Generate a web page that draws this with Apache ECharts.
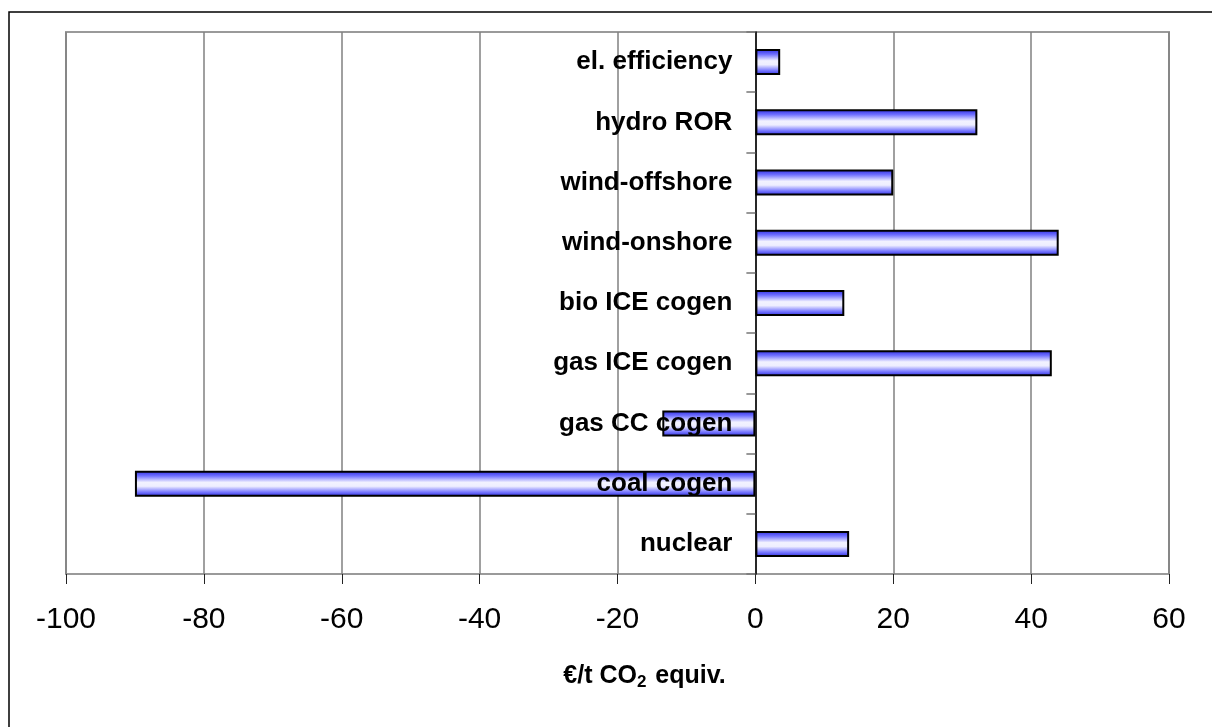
<!DOCTYPE html>
<html>
<head>
<meta charset="utf-8">
<script src="https://cdn.jsdelivr.net/npm/echarts@6/dist/echarts.min.js"></script>
<style>
  html, body { margin: 0; padding: 0; background: #fff; }
  #chart { width: 1212px; height: 727px; }
</style>
</head>
<body>
<div id="chart"></div>
<script>
// categories from bottom to top, as ECharts lays out a category y axis
var categories = ['nuclear', 'coal cogen', 'gas CC cogen', 'gas ICE cogen', 'bio ICE cogen',
  'wind-onshore', 'wind-offshore', 'hydro ROR', 'el. efficiency']
var costValues = [13.6, -90, -13.5, 43, 12.9, 44, 20, 32.2, 3.6]
var xTicks = [-100, -80, -60, -40, -20, 0, 20, 40, 60]

var fontName = 'Arial, "Liberation Sans", sans-serif'

var barFill = new echarts.graphic.LinearGradient(0, 0, 0, 1, [
  { offset: 0, color: '#2a2ae0' },
  { offset: 0.2, color: '#7070ff' },
  { offset: 0.45, color: '#f2f2ff' },
  { offset: 0.6, color: '#eeeeff' },
  { offset: 0.82, color: '#7a7aff' },
  { offset: 1, color: '#2a2ae0' }
])

// category names sit left of the zero line, so they are drawn as labels of points at x = 0
var labelPoints = categories.map(function (name) {
  return [0, name]
})

var myChart = echarts.init(document.getElementById('chart'))
myChart.setOption({
  animation: false,
  backgroundColor: '#fff',
  graphic: [
    {
      type: 'rect',
      z: -10,
      shape: { x: 9, y: 12, width: 1300, height: 900 },
      style: { fill: 'none', stroke: '#000', lineWidth: 1.5 }
    }
  ],
  grid: {
    left: 66,
    right: 43,
    top: 32,
    bottom: 153,
    show: true,
    borderColor: '#9a9a9a',
    borderWidth: 2,
    containLabel: false,
    outerBoundsMode: 'none'
  },
  xAxis: {
    type: 'value',
    min: xTicks[0],
    max: xTicks[xTicks.length - 1],
    interval: 20,
    name: '{a|€/t CO}{s|2}{a| equiv.}',
    nameLocation: 'middle',
    nameGap: 88,
    nameTextStyle: {
      padding: [0, 0, 0, 54],
      rich: {
        a: { fontFamily: fontName, fontSize: 25, fontWeight: 'bold', color: '#000' },
        s: { fontFamily: fontName, fontSize: 17, fontWeight: 'bold', color: '#000', padding: [12, 2, 0, 0] }
      }
    },
    axisLine: { onZero: false, lineStyle: { color: '#555', width: 2 } },
    axisTick: { show: true, length: 10, lineStyle: { color: '#222', width: 1 } },
    axisLabel: {
      margin: 31,
      fontFamily: fontName,
      fontSize: 30,
      color: '#000'
    },
    splitLine: { show: true, lineStyle: { color: '#808080', width: 1.5 } }
  },
  yAxis: {
    type: 'category',
    data: categories,
    z: 5,
    axisLine: { onZero: true, lineStyle: { color: '#000', width: 1.5 } },
    axisTick: { show: true, length: 9, lineStyle: { color: '#777', width: 1.5 } },
    axisLabel: { show: false },
    splitLine: { show: false }
  },
  series: [
    {
      type: 'bar',
      data: costValues,
      barWidth: 26,
      itemStyle: {
        color: barFill,
        borderColor: '#000',
        borderWidth: 2
      }
    },
    {
      type: 'scatter',
      data: labelPoints,
      symbolSize: 0,
      z: 10,
      silent: true,
      itemStyle: { opacity: 1 },
      label: {
        show: true,
        position: 'left',
        distance: 23,
        formatter: function (p) { return p.value[1] },
        fontFamily: fontName,
        fontSize: 26,
        fontWeight: 'bold',
        color: '#000'
      }
    }
  ]
})
</script>
</body>
</html>
